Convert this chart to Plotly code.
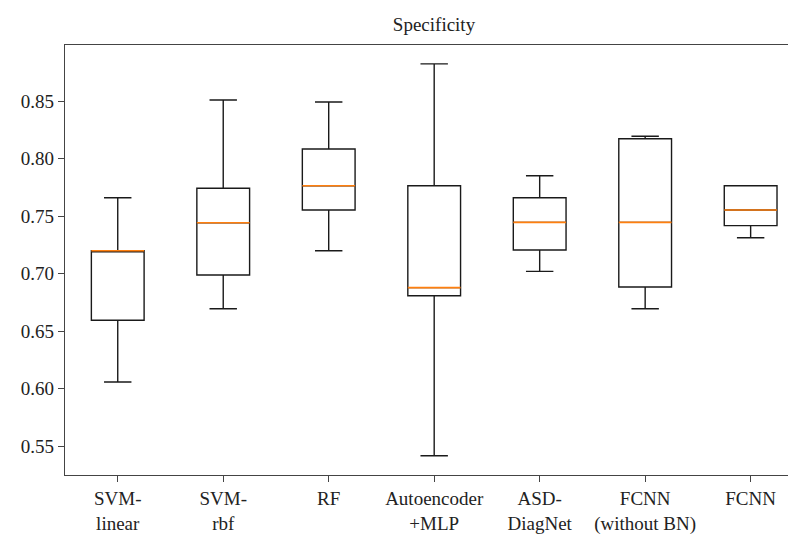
import plotly.graph_objects as go

categories = ["SVM-<br>linear", "SVM-<br>rbf", "RF", "Autoencoder<br>+MLP",
              "ASD-<br>DiagNet", "FCNN<br>(without BN)", "FCNN"]
lower = [0.6057, 0.6694, 0.7198, 0.5416, 0.7019, 0.6694, 0.7311]
q1 = [0.6593, 0.6987, 0.7552, 0.6807, 0.7204, 0.6883, 0.7416]
median = [0.7198, 0.7442, 0.7763, 0.6877, 0.7445, 0.7445, 0.7552]
q3 = [0.7198, 0.7741, 0.8083, 0.7763, 0.7659, 0.8172, 0.7763]
upper = [0.7659, 0.8509, 0.8491, 0.8823, 0.7850, 0.8193, 0.7763]
positions = list(range(1, len(categories) + 1))

FONT = "Liberation Serif"
BOXW = 0.5
OFF = 8  # default page body margin

fig = go.Figure()
fig.add_trace(go.Box(
    x=positions, q1=q1, median=median, q3=q3,
    lowerfence=lower, upperfence=upper,
    width=BOXW, whiskerwidth=0.52,
    line=dict(color="#1a1a1a", width=1.4),
    fillcolor="rgba(255,255,255,0)",
    boxpoints=False, showlegend=False, hoverinfo="skip",
))

mx, my = [], []
for p, m in zip(positions, median):
    mx += [p - BOXW / 2, p + BOXW / 2, None]
    my += [m, m, None]
fig.add_trace(go.Scatter(x=mx, y=my, mode="lines",
                         line=dict(color="#ff7f0e", width=1.6),
                         showlegend=False, hoverinfo="skip"))

W, H = 796 - OFF, 537 - OFF
fig.update_layout(
    width=W, height=H,
    margin=dict(l=65 - OFF, r=0, t=45 - OFF, b=62),
    paper_bgcolor="white", plot_bgcolor="white",
    font=dict(family=FONT, size=19, color="#222"),
    title=dict(text="Specificity", x=(434 - OFF) / W, xanchor="center",
               y=1 - (24 - OFF) / H, yanchor="middle",
               font=dict(family=FONT, size=19, color="#222")),
)
fig.update_xaxes(
    range=[0.5, 7.43], tickmode="array", tickvals=positions, ticktext=categories,
    showline=True, linecolor="#444", linewidth=1.4, mirror=True,
    ticks="outside", ticklen=6, tickcolor="#444", tickwidth=1.2,
    showgrid=False, zeroline=False, tickfont=dict(family=FONT, size=19, color="#222"),
)
fig.update_yaxes(
    range=[0.5248, 0.8987], tickmode="array",
    tickvals=[0.55, 0.60, 0.65, 0.70, 0.75, 0.80, 0.85], tickformat=".2f",
    showline=True, linecolor="#444", linewidth=1.4, mirror=False,
    ticks="outside", ticklen=6, tickcolor="#444", tickwidth=1.2,
    showgrid=False, zeroline=False, tickfont=dict(family=FONT, size=19, color="#222"),
)

fig.write_html("out.html")
